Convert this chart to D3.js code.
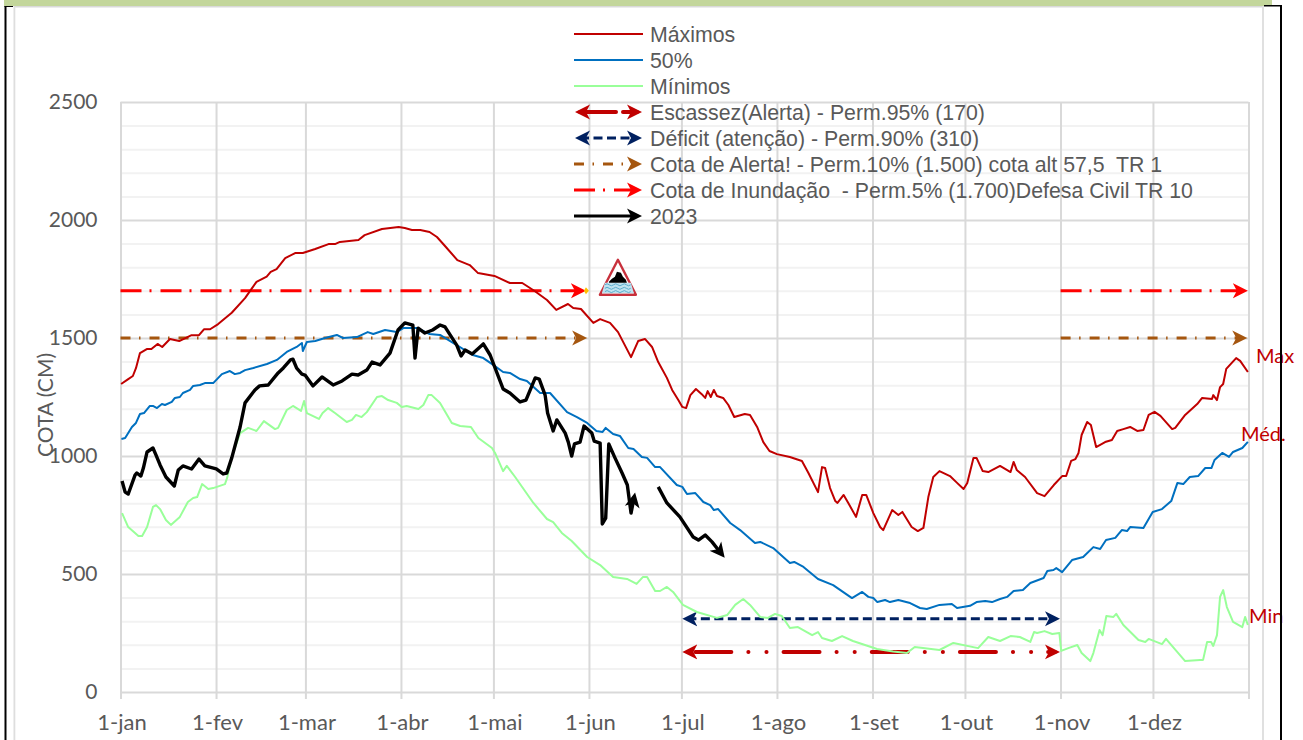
<!DOCTYPE html>
<html><head><meta charset="utf-8">
<script src="https://cdn.jsdelivr.net/npm/d3@7"></script>
<style>html,body{margin:0;padding:0;background:#fff;overflow:hidden}svg{display:block}</style>
</head><body><svg id="c" width="1303" height="740"></svg>
<script>
const monthLabels=["1-jan","1-fev","1-mar","1-abr","1-mai","1-jun","1-jul","1-ago","1-set","1-out","1-nov","1-dez",""];
const monthStarts=[0,31,60,91,121,152,182,213,244,274,305,335,366];
const yMajor=[0,500,1000,1500,2000,2500];
const yMinor=[100,200,300,400,600,700,800,900,1100,1200,1300,1400,1600,1700,1800,1900,2100,2200,2300,2400];

const maximos=[[0.2,1305],[2.5,1326],[4,1339],[5,1372],[6.3,1436],[8.5,1453],[10,1453],[12,1475],[13.5,1462],[16,1496],[19,1487],[23,1512],[25.4,1512],[27,1537],[29,1537],[31.6,1559],[36,1607],[40.3,1669],[44,1738],[47.3,1760],[48.6,1780],[50.5,1792],[53.3,1838],[56.5,1860],[59,1860],[63,1877],[67.3,1898],[69.4,1898],[71,1907],[77,1915],[79,1936],[84.6,1962],[90,1970],[92,1966],[94.3,1958],[97,1958],[100,1949],[102.4,1928],[105,1890],[109,1830],[113,1809],[115.7,1775],[121,1763],[126,1733],[130,1733],[134,1699],[138,1661],[141,1619],[144.8,1644],[146.5,1627],[149,1623],[153,1564],[155.2,1580],[158.4,1564],[161,1525],[165.2,1419],[167.5,1487],[169.7,1496],[172,1462],[174,1398],[176.8,1331],[178.5,1280],[180.5,1237],[181.8,1208],[183,1203],[184.4,1258],[186.2,1284],[188,1263],[189.2,1246],[190,1275],[191,1250],[192,1280],[193,1254],[195,1246],[196.7,1216],[198.6,1165],[202,1178],[203.7,1174],[206,1123],[208,1059],[210,1021],[212.4,1008],[216.6,996],[220.5,979],[222.6,928],[225.7,847],[227,953],[228,949],[229.6,864],[231.3,809],[232,801],[234,835],[235.5,801],[238,742],[240,835],[241.3,835],[243.6,758],[245.8,699],[246.8,686],[249.7,771],[251.7,750],[253,763],[256,699],[258,682],[259.8,695],[261.4,826],[263,911],[265,936],[268.4,915],[270.7,886],[272.8,860],[274,886],[276,992],[277,992],[279,936],[280.8,932],[284.6,958],[288,932],[289,975],[290,941],[292.7,911],[296.6,843],[299,830],[302,877],[304.7,915],[306,915],[307.6,979],[309,987],[310,1013],[311,1089],[312.8,1144],[314,1131],[315.7,1038],[318.6,1059],[320.8,1068],[322.5,1106],[324.5,1114],[326.7,1123],[329,1106],[331,1110],[332.7,1174],[334.6,1187],[336.5,1170],[340.3,1114],[341.3,1119],[344.5,1174],[348.4,1220],[350,1246],[353.2,1242],[353.6,1258],[354.8,1237],[355.8,1292],[356.8,1305],[357.8,1369],[361,1415],[362.3,1403],[364.8,1356]];

const mediana=[[0.3,1072],[1.5,1076],[3.7,1123],[5,1140],[6.3,1178],[7.6,1182],[9.5,1212],[10.5,1212],[11.8,1203],[13.4,1220],[14.4,1216],[16.6,1229],[17.6,1246],[19.2,1250],[20.2,1267],[22.5,1280],[23.5,1297],[25.7,1301],[27.3,1309],[30,1309],[32.8,1347],[35.4,1360],[37,1347],[38.7,1352],[40.3,1364],[43,1373],[47.4,1390],[50.6,1407],[53.8,1441],[57,1462],[58.7,1479],[59,1445],[60.3,1483],[63,1487],[66.2,1500],[70,1513],[72,1500],[76.5,1504],[80,1525],[81.8,1517],[85.6,1534],[89.4,1525],[91.5,1542],[96,1542],[100,1517],[103.4,1513],[108.8,1470],[114,1428],[117.4,1415],[120.6,1386],[123.8,1356],[126,1352],[129.3,1326],[131.5,1318],[135.8,1267],[139,1267],[144.5,1186],[147.7,1165],[151,1140],[154,1106],[156,1102],[157,1119],[159.4,1093],[161.6,1085],[164.3,1034],[166,1030],[168.7,996],[170.4,992],[173,953],[174.6,953],[180,877],[181.8,869],[183.3,839],[186,843],[188.6,805],[190.8,792],[192,771],[193.4,775],[197.3,716],[200.5,686],[205.3,631],[207,636],[211.2,610],[216.6,547],[218,551],[221,530],[225.7,479],[230.6,453],[236.7,398],[240,424],[242,403],[243.6,398],[244.9,381],[247.4,390],[249,381],[251.7,390],[255.5,377],[258.7,356],[260.9,352],[265,369],[269,373],[270.7,356],[274.9,365],[277,381],[279.8,386],[282,381],[284.6,394],[286.9,403],[289,428],[292,432],[294.4,462],[298.7,483],[299.9,513],[301.9,517],[302.8,525],[304.7,508],[307.9,559],[311.5,572],[314.8,614],[317,606],[318.9,644],[321.9,653],[324,686],[325.7,682],[326.7,699],[331,695],[334,763],[337,775],[340,809],[342,886],[343.9,881],[346,911],[348.7,915],[351,949],[353,949],[354,983],[356.5,1013],[358.7,996],[360,1017],[363,1034],[364.8,1060]];

const minimos=[[0.5,758],[2.5,699],[5.8,661],[7,661],[8.6,699],[10.5,784],[11.5,792],[12.8,775],[14.7,729],[16.3,708],[19.2,742],[21.8,805],[23.5,822],[24.8,826],[26.4,881],[28.4,860],[30,864],[33.8,881],[34.5,907],[36,996],[38.7,1097],[41.3,1119],[44,1106],[46.4,1148],[50,1114],[51,1119],[53.8,1195],[55.8,1212],[58.4,1191],[59.4,1233],[60.3,1182],[64.2,1157],[65.4,1182],[67.2,1203],[69.4,1182],[73.2,1144],[74.9,1153],[76.2,1174],[78,1165],[79.7,1186],[83,1250],[84.6,1254],[86.6,1237],[89.4,1225],[91,1208],[92.6,1212],[96.4,1199],[98,1216],[99.6,1258],[100.7,1258],[103.4,1225],[107.2,1140],[109.9,1127],[113.4,1123],[115.8,1076],[120.2,1034],[121.2,1013],[123.8,936],[125,958],[127.7,911],[133.6,801],[138,733],[140,720],[142.8,674],[146,640],[151,572],[155.2,538],[159.4,487],[163.9,479],[167,458],[169,487],[170.4,487],[173,428],[174.6,428],[176.8,445],[178.8,424],[182,369],[186.5,339],[193,314],[196.3,326],[198.9,369],[201.5,394],[203.7,369],[207,318],[209.5,314],[211.8,331],[214,322],[216.6,271],[219.2,275],[223.8,241],[225.7,254],[227,229],[230.2,216],[233.5,237],[237,216],[244.8,182],[250,172],[254.5,165],[257,191],[265,178],[269.5,208],[277.5,186],[280.8,233],[284.6,216],[288,237],[291,233],[294.4,212],[295.6,254],[296.6,250],[299,258],[301.5,246],[303.8,250],[304.4,174],[306.7,186],[309.6,199],[311,165],[313.8,131],[314.8,165],[316.8,263],[317.8,241],[319,322],[321.3,318],[322.2,331],[324.5,284],[329.4,220],[331.6,212],[332.7,225],[337,203],[338.3,225],[344.5,131],[349.3,136],[350.3,136],[351.6,212],[352.9,212],[353.6,195],[354.8,241],[355.8,403],[356.8,432],[358,360],[360,297],[363,275],[363.9,318],[364.8,284]];

const ano2023a=[[0.5,894],[1.5,847],[2.5,839],[4.7,919],[5.3,928],[6.6,915],[7.4,949],[8.6,1017],[10.5,1034],[11.5,1004],[12.8,962],[14.7,911],[17.4,873],[18.7,941],[20.2,958],[23,945],[25.4,987],[27.3,958],[31,945],[33.2,924],[34.4,928],[36,992],[38.7,1123],[40.3,1225],[43.5,1280],[45,1297],[47.8,1301],[51,1352],[52.7,1373],[55,1407],[55.8,1410],[57,1372],[58.7,1347],[59.7,1343],[62.3,1297],[65.2,1335],[68.8,1301],[71.7,1318],[74.9,1347],[76.9,1343],[79.7,1364],[81.4,1398],[84,1386],[87.2,1436],[89.8,1534],[92,1564],[94.6,1555],[95.3,1415],[96.3,1542],[98.5,1521],[101,1534],[103.4,1555],[105,1547],[108.8,1470],[110.2,1424],[111.5,1449],[113.8,1432],[117.4,1475],[119.6,1428],[123.8,1284],[126,1267],[129.3,1229],[131.2,1237],[134.2,1331],[135.5,1326],[137.4,1258],[138.2,1182],[140,1106],[141.2,1153],[143.9,1097],[144.9,1059],[146,1000],[146.9,1051],[148.7,1059],[150,1127],[152.5,1097],[153.3,1063],[155.2,1055],[155.9,712],[157,737],[158,1051],[160,992],[162.3,928],[164,877],[165.2,758],[166.2,825]];
const ano2023b=[[174,869],[176.8,801],[181,742],[185.3,657],[187,644],[189.2,665],[191.4,636],[194.5,585]];

const limites=[
 {nome:"Escassez(Alerta) - Perm.95% (170)",valor:170,cor:"#c00000",w:4,dash:"36 17 0.1 18 0.1 17",off:-8,cap:"round",trechos:[[181.8,304]],duplo:true},
 {nome:"Déficit (atenção) - Perm.90% (310)",valor:310,cor:"#002060",w:3,dash:"9 4.5",off:0,cap:"butt",trechos:[[181.8,304]],duplo:true},
 {nome:"Cota de Alerta! - Perm.10% (1.500) cota alt 57,5  TR 1",valor:1500,cor:"#a5560f",w:3,dash:"10 8.5 1.5 9",off:0,cap:"butt",trechos:[[0,151],[304.2,364.6]],duplo:false},
 {nome:"Cota de Inundação  - Perm.5% (1.700)Defesa Civil TR 10",valor:1700,cor:"#ff0000",w:3,dash:"21 8 2 9",off:0,cap:"butt",trechos:[[0,150.6],[304.2,364.8]],duplo:false}
];
const seriesLegenda=[["Máximos","#c00000"],["50%","#0070c0"],["Mínimos","#99ff99"]];
const rotulos=[["Max",maximos,"#c00000",1256,7],["Méd.",mediana,"#c00000",1241,-1],["Min",minimos,"#c00000",1249,-2]];
rotulos[0][4]=-9;

const W=1303,H=740,L=120.5,R=1248.5,T=102,B=692;
const svg=d3.select("#c");
const x=d3.scaleLinear().domain([0,365]).range([L,R]);
const y=d3.scaleLinear().domain([0,2500]).range([B,T]);
const leap=d=>d*365/366;
const FONT="Lato, sans-serif", GREY="#595959", GRID="#d9d9d9";

// markers
const defs=svg.append("defs");
function marker(id,color){
  defs.append("marker").attr("id",id).attr("markerUnits","userSpaceOnUse")
    .attr("viewBox","0 -8 16 16").attr("markerWidth",16).attr("markerHeight",16)
    .attr("refX",10).attr("refY",0).attr("orient","auto-start-reverse")
    .append("path").attr("d","M0,-7.5L15,0L0,7.5L4,0Z").attr("fill",color);
}
limites.forEach((l,i)=>marker("m"+i,l.cor));
marker("mk","#000");

// frame
const f=svg.append("g");
f.append("rect").attr("x",4).attr("y",0).attr("width",1268).attr("height",6).attr("fill","#c3d69b");
f.append("rect").attr("x",14).attr("y",6).attr("width",1250).attr("height",1.5).attr("fill",GRID);
f.append("rect").attr("x",13.5).attr("y",6).attr("width",1.8).attr("height",H).attr("fill","#dedede");
f.append("rect").attr("x",1262).attr("y",6).attr("width",2).attr("height",H).attr("fill","#e0e0e0");

// grid via axes
const gMinor=svg.append("g").attr("transform",`translate(${L},0)`)
  .call(d3.axisRight(y).tickValues(yMinor).tickSize(R-L).tickFormat(""));
gMinor.select(".domain").remove();
gMinor.selectAll("line").attr("stroke","#f2f2f2").attr("stroke-width",2);
const gMajor=svg.append("g").attr("transform",`translate(${L},0)`)
  .call(d3.axisLeft(y).tickValues(yMajor).tickSize(0).tickPadding(23).tickFormat(d=>d));
gMajor.select(".domain").remove();
gMajor.selectAll("line").attr("x2",R-L).attr("stroke",GRID).attr("stroke-width",2);
gMajor.selectAll("text").attr("font-family",FONT).attr("font-size",21).attr("fill",GREY).attr("dy","0.3em");

const gx=svg.append("g").attr("transform",`translate(0,${B})`)
  .call(d3.axisBottom(x).tickValues(monthStarts.map(leap)).tickSize(7).tickPadding(15)
    .tickFormat((d,i)=>monthLabels[i]));
gx.select(".domain").remove();
gx.selectAll("line").attr("y1",T-B).attr("y2",7).attr("stroke",GRID).attr("stroke-width",2);
gx.selectAll("text").attr("font-family",FONT).attr("font-size",22).attr("fill",GREY).attr("dx",1);

svg.append("text").text("COTA (CM)").attr("transform","translate(53,405) rotate(-90)")
  .attr("text-anchor","middle").attr("font-family",FONT).attr("font-size",21).attr("fill",GREY);

// threshold lines
const lineY=d3.line().x(d=>x(d[0])).y(d=>y(d[1]));
const gLim=svg.append("g");
limites.forEach((l,i)=>{
  l.trechos.forEach(t=>{
    gLim.append("line").attr("x1",x(t[0])+(l.duplo?5:0)).attr("x2",x(t[1])-5)
      .attr("y1",y(l.valor)).attr("y2",y(l.valor))
      .attr("stroke",l.cor).attr("stroke-width",l.w).attr("stroke-dasharray",l.dash)
      .attr("stroke-dashoffset",l.off).attr("stroke-linecap",l.cap)
      .attr("marker-end",`url(#m${i})`)
      .attr("marker-start",l.duplo?`url(#m${i})`:null);
  });
});

// series
const curves=[[maximos,"#c00000",2],[mediana,"#0070c0",2],[minimos,"#99ff99",2]];
const gS=svg.append("g").attr("fill","none").attr("stroke-linejoin","round");
const floodEnd=limites[3].trechos[0][1];
curves.forEach(c=>gS.append("path").datum(c[0]).attr("d",lineY).attr("stroke",c[1]).attr("stroke-width",c[2]));
[ano2023a,ano2023b].forEach(s=>gS.append("path").datum(s).attr("d",lineY).attr("stroke","#000")
   .attr("stroke-width",3.4).attr("marker-end","url(#mk)"));

// gold glow on the first flood arrow
svg.append("path").attr("transform",`translate(${x(floodEnd)},${y(1700)})`)
  .attr("d","M-3,-7L3,0L-3,7L0,3.5L-2,0L0,-3.5Z").attr("fill","#ffc000");

// flood icon anchored on the flood level
const ic=svg.append("g").attr("transform",`translate(${x(floodEnd)+32},${y(1700)})`);
ic.append("path").attr("d","M0,-31L18,4L-18,4Z").attr("fill","#fff").attr("stroke","#c8313c").attr("stroke-width",2.4).attr("stroke-linejoin","round");
ic.append("path").attr("d","M-13,-8L13,-8L16,2.5L-16,2.5Z").attr("fill","#bfe2ef");
[-6,-2.5,0.8].forEach(dy=>ic.append("path").attr("d",`M-13,${dy}q2.2,-2 4.3,0t4.3,0t4.3,0t4.3,0t4.3,0t4.3,0`).attr("fill","none").attr("stroke","#5aaccc").attr("stroke-width",1));
ic.append("path").attr("d","M-9,-9L-6,-12L-3,-14L-1,-19L3,-18L5,-14L8,-11L9,-8L-9,-8Z").attr("fill","#000");

// legend
const leg=svg.append("g");
const lx0=574,lx1=642,lyTop=34,step=26;
const lgText=(t,i)=>leg.append("text").text(t).attr("x",650).attr("y",lyTop+i*step).attr("dy","0.36em")
   .attr("font-family","'Liberation Sans',Arial,sans-serif").attr("font-size",21.3).attr("fill",GREY)
   .style("white-space","pre");
seriesLegenda.forEach((s,i)=>{
  leg.append("line").attr("x1",lx0).attr("x2",lx1+1).attr("y1",lyTop+i*step).attr("y2",lyTop+i*step).attr("stroke",s[1]).attr("stroke-width",2);
  lgText(s[0],i);
});
limites.forEach((l,j)=>{
  const i=j+3, yy=lyTop+i*step;
  leg.append("line").attr("x1",lx0+(l.duplo?6:0)).attr("x2",lx1-5).attr("y1",yy).attr("y2",yy)
    .attr("stroke",l.cor).attr("stroke-width",l.w)
    .attr("stroke-dasharray",j==0?"36 7":l.dash).attr("stroke-linecap",l.cap)
    .attr("marker-end",`url(#m${j})`).attr("marker-start",l.duplo?`url(#m${j})`:null);
  lgText(l.nome,i);
});
leg.append("line").attr("x1",lx0).attr("x2",lx1-5).attr("y1",lyTop+7*step).attr("y2",lyTop+7*step)
  .attr("stroke","#000").attr("stroke-width",3).attr("marker-end","url(#mk)");
lgText("2023",7);

// end labels
rotulos.forEach(r=>{
  const last=r[1][r[1].length-1];
  svg.append("text").text(r[0]).attr("font-family",FONT).attr("font-size",20).attr("fill",r[2])
    .attr("x",r[3]).attr("y",y(last[1])+r[4]);
});

// outer black frame, on top
const bk=svg.append("g").attr("fill","#000");
bk.append("rect").attr("x",4.5).attr("y",6).attr("width",2).attr("height",H);
bk.append("rect").attr("x",4.5).attr("y",6).attr("width",8.5).attr("height",1);
bk.append("rect").attr("x",1264).attr("y",5).attr("width",18).attr("height",1.5);
bk.append("rect").attr("x",1280).attr("y",5).attr("width",2).attr("height",H);
</script></body></html>
